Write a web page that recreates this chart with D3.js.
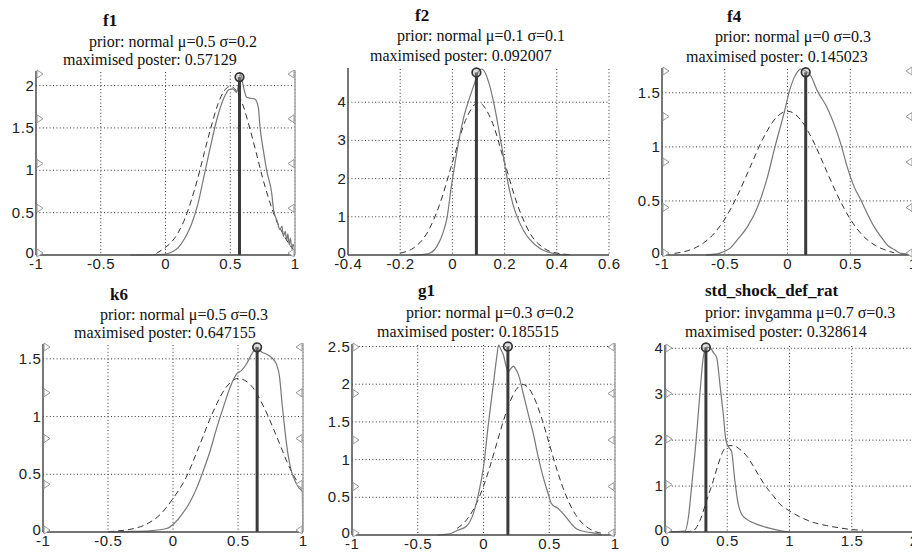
<!DOCTYPE html>
<html>
<head>
<meta charset="utf-8">
<script src="https://cdn.jsdelivr.net/npm/d3@7"></script>
<style>
  html, body { margin: 0; padding: 0; background: #fff; }
  svg { display: block; }
  .tick-label { font-family: "Liberation Sans", Arial, sans-serif; font-size: 15px; fill: #222; letter-spacing: 0.6px; }
  .ann { font-family: "Liberation Serif", "Times New Roman", serif; font-size: 16px; fill: #111; }
  .ttl { font-family: "Liberation Serif", "Times New Roman", serif; font-size: 17px; font-weight: bold; fill: #111; }
</style>
</head>
<body>
<svg id="chart" width="912" height="554"></svg>
<script>
// parameter names and prior descriptions
const panelNames = ['f1', 'f2', 'f4', 'k6', 'g1', 'std_shock_def_rat'];
const priorShapes = ['normal', 'normal', 'normal', 'normal', 'normal', 'invgamma'];
const priorMeans = [0.5, 0.1, 0, 0.5, 0.3, 0.7];
const priorStds = [0.2, 0.1, 0.3, 0.3, 0.2, 0.3];

// posterior mode and the density drawn at it
const modeValues = [0.57129, 0.092007, 0.145023, 0.647155, 0.185515, 0.328614];
const modeDensity = [2.1, 4.78, 1.69, 1.6, 2.5, 4.02];

// axis limits and ticks
const xDomains = [[-1, 1], [-0.4, 0.6], [-1, 1], [-1, 1], [-1, 1], [0, 2]];
const yMax = [2.16, 4.87, 1.72, 1.62, 2.52, 4.05];
const xTicks = [
  [-1, -0.5, 0, 0.5, 1],
  [-0.4, -0.2, 0, 0.2, 0.4, 0.6],
  [-1, -0.5, 0, 0.5, 1],
  [-1, -0.5, 0, 0.5, 1],
  [-1, -0.5, 0, 0.5, 1],
  [0, 0.5, 1, 1.5, 2]
];
const yTicks = [
  [0, 0.5, 1, 1.5, 2],
  [0, 1, 2, 3, 4],
  [0, 0.5, 1, 1.5],
  [0, 0.5, 1, 1.5],
  [0, 0.5, 1, 1.5, 2, 2.5],
  [0, 1, 2, 3, 4]
];

// posterior densities (solid) as [x, density]
const f1Posterior = [[-0.27,0],[-0.1,0.003],[0,0.012],[0.05,0.035],[0.1,0.09],[0.15,0.2],[0.2,0.36],[0.25,0.6],[0.3,0.95],[0.35,1.3],[0.4,1.62],[0.45,1.85],[0.49,1.95],[0.52,1.96],[0.55,1.92],[0.565,2.02],[0.58,2.14],[0.6,2.0],[0.627,1.86],[0.66,1.85],[0.691,1.84],[0.717,1.74],[0.73,1.51],[0.755,1.24],[0.781,1.0],[0.82,0.73],[0.835,0.53],[0.86,0.41],[0.884,0.3],[0.9,0.34],[0.91,0.22],[0.925,0.28],[0.935,0.17],[0.945,0.25],[0.955,0.12],[0.965,0.2],[0.975,0.07],[0.985,0.13],[1.0,0.02]];
const f2Posterior = [[-0.156,0],[-0.12,0.01],[-0.09,0.04],[-0.06,0.22],[-0.035,0.6],[-0.02,1.0],[-0.005,1.75],[0.01,2.4],[0.025,3.0],[0.045,3.65],[0.065,4.1],[0.085,4.5],[0.1,4.8],[0.112,4.87],[0.125,4.78],[0.14,4.5],[0.158,4.0],[0.176,3.35],[0.195,2.6],[0.214,1.85],[0.233,1.3],[0.253,0.92],[0.272,0.65],[0.297,0.4],[0.336,0.17],[0.387,0.04],[0.44,0]];
const f4Posterior = [[-0.65,0],[-0.56,0.01],[-0.51,0.03],[-0.45,0.07],[-0.4,0.14],[-0.32,0.26],[-0.24,0.44],[-0.16,0.72],[-0.1,1.0],[-0.03,1.3],[0.024,1.55],[0.077,1.69],[0.104,1.72],[0.145,1.7],[0.184,1.66],[0.237,1.52],[0.317,1.36],[0.371,1.21],[0.424,1.03],[0.477,0.81],[0.531,0.63],[0.584,0.51],[0.637,0.38],[0.691,0.26],[0.744,0.17],[0.797,0.09],[0.851,0.05],[0.904,0.015],[1.0,0.005]];
const k6Posterior = [[-0.5,0],[-0.3,0.005],[-0.177,0.01],[-0.05,0.03],[0.015,0.08],[0.067,0.15],[0.131,0.26],[0.182,0.38],[0.233,0.53],[0.285,0.7],[0.336,0.9],[0.387,1.08],[0.438,1.25],[0.49,1.37],[0.528,1.4],[0.567,1.46],[0.605,1.54],[0.645,1.6],[0.682,1.56],[0.721,1.54],[0.759,1.51],[0.797,1.45],[0.82,1.34],[0.84,1.1],[0.862,0.87],[0.885,0.67],[0.91,0.53],[0.94,0.44],[0.97,0.38],[0.995,0.35],[0.998,0]];
const g1Posterior = [[-0.35,0],[-0.25,0.02],[-0.2,0.06],[-0.128,0.12],[-0.078,0.28],[-0.039,0.54],[0,0.9],[0.037,1.47],[0.075,2.0],[0.1,2.35],[0.115,2.52],[0.135,2.45],[0.151,2.39],[0.17,2.25],[0.189,2.17],[0.205,2.2],[0.227,2.24],[0.245,2.2],[0.265,2.13],[0.303,1.87],[0.341,1.6],[0.379,1.34],[0.417,1.03],[0.455,0.76],[0.493,0.54],[0.515,0.42],[0.531,0.39],[0.56,0.36],[0.607,0.28],[0.658,0.17],[0.709,0.08],[0.785,0.04],[0.861,0.02],[0.9,0]];
const stdPosterior = [[0.0,0.01],[0.1,0.01],[0.16,0.02],[0.187,0.3],[0.214,1.0],[0.25,2.0],[0.28,3.0],[0.305,3.75],[0.329,4.02],[0.36,4.02],[0.39,3.9],[0.415,3.8],[0.441,3.22],[0.468,2.57],[0.489,2.0],[0.51,1.85],[0.535,1.75],[0.561,1.12],[0.588,0.61],[0.615,0.39],[0.655,0.28],[0.708,0.2],[0.815,0.1],[0.922,0.03],[1.0,0.0]];

// prior densities (dashed) as [x, density]
const f1Prior = [[-0.07,0.02],[0,0.09],[0.05,0.16],[0.1,0.27],[0.15,0.43],[0.2,0.65],[0.25,0.91],[0.3,1.21],[0.35,1.5],[0.4,1.76],[0.45,1.93],[0.5,1.99],[0.55,1.93],[0.6,1.76],[0.65,1.5],[0.7,1.21],[0.75,0.91],[0.8,0.65],[0.85,0.43],[0.9,0.27],[0.95,0.14],[1.0,0.04]];
const f2Prior = [[-0.2,0.05],[-0.15,0.18],[-0.1,0.54],[-0.05,1.3],[0,2.42],[0.05,3.52],[0.1,3.99],[0.15,3.52],[0.2,2.42],[0.25,1.3],[0.3,0.54],[0.35,0.18],[0.4,0.05],[0.45,0.01]];
const f4Prior = [[-0.9,0.015],[-0.8,0.038],[-0.7,0.088],[-0.6,0.18],[-0.5,0.332],[-0.4,0.547],[-0.3,0.807],[-0.2,1.065],[-0.1,1.257],[0,1.33],[0.1,1.257],[0.2,1.065],[0.3,0.807],[0.4,0.547],[0.5,0.332],[0.6,0.18],[0.7,0.088],[0.8,0.038],[0.85,0.02]];
const k6Prior = [[-0.5,0.003],[-0.4,0.012],[-0.3,0.03],[-0.2,0.07],[-0.1,0.15],[0,0.29],[0.1,0.47],[0.2,0.74],[0.3,1.02],[0.4,1.24],[0.5,1.33],[0.6,1.27],[0.7,1.08],[0.8,0.82],[0.9,0.55],[1.0,0.36]];
const g1Prior = [[-0.2,0.088],[-0.15,0.159],[-0.1,0.27],[-0.05,0.431],[0,0.648],[0.05,0.913],[0.1,1.21],[0.15,1.506],[0.2,1.76],[0.25,1.933],[0.3,1.995],[0.35,1.933],[0.4,1.76],[0.45,1.506],[0.5,1.21],[0.55,0.913],[0.6,0.648],[0.65,0.431],[0.7,0.27],[0.75,0.159],[0.8,0.088],[0.85,0.045],[0.9,0.022]];
const stdPrior = [[0.16,0],[0.227,0.03],[0.281,0.25],[0.334,0.68],[0.388,1.12],[0.428,1.48],[0.468,1.77],[0.508,1.88],[0.548,1.88],[0.601,1.8],[0.655,1.66],[0.708,1.44],[0.762,1.19],[0.815,0.97],[0.869,0.79],[0.922,0.61],[0.976,0.5],[1.029,0.41],[1.083,0.33],[1.19,0.21],[1.297,0.14],[1.403,0.09],[1.51,0.05],[1.59,0.04]];

const posteriors = [f1Posterior, f2Posterior, f4Posterior, k6Posterior, g1Posterior, stdPosterior];
const priors = [f1Prior, f2Prior, f4Prior, k6Prior, g1Prior, stdPrior];

// pixel boxes of the six subplots and where their text sits
const layout = [
  { left: 36,  right: 295, top: 72,  bottom: 255, tx: 103, ty: 26,  px: 89,  py: 47,  mx: 63,  my: 65,  markL: true,  markR: true },
  { left: 348, right: 609, top: 69,  bottom: 255, tx: 415, ty: 21,  px: 397, py: 41,  mx: 370, my: 61,  markL: false, markR: false },
  { left: 662, right: 913, top: 69,  bottom: 255, tx: 727, ty: 22,  px: 715, py: 42,  mx: 686, my: 62,  markL: true,  markR: true },
  { left: 43,  right: 303, top: 345, bottom: 532, tx: 110, ty: 300, px: 100, py: 320, mx: 74,  my: 338, markL: true,  markR: true },
  { left: 352, right: 615, top: 345, bottom: 535, tx: 418, ty: 296, px: 406, py: 318, mx: 377, my: 337, markL: true,  markR: true },
  { left: 665, right: 914, top: 346, bottom: 532, tx: 705, ty: 296, px: 705, py: 318, mx: 685, my: 337, markL: true,  markR: false }
];

const svg = d3.select('#chart');

panelNames.forEach((name, i) => {
  const box = layout[i];
  const x = d3.scaleLinear().domain(xDomains[i]).range([box.left, box.right]);
  const y = d3.scaleLinear().domain([0, yMax[i]]).range([box.bottom, box.top]);
  const g = svg.append('g').attr('class', 'panel');

  // dotted grid
  g.selectAll('line.vgrid')
    .data(xTicks[i].filter((t) => t > xDomains[i][0]))
    .enter()
    .append('line')
    .attr('x1', (d) => x(d)).attr('x2', (d) => x(d))
    .attr('y1', box.top).attr('y2', box.bottom)
    .attr('stroke', '#333')
    .attr('stroke-width', 1)
    .attr('stroke-dasharray', '1,2.4');

  g.selectAll('line.hgrid')
    .data(yTicks[i].filter((t) => t > 0))
    .enter()
    .append('line')
    .attr('x1', box.left).attr('x2', box.right)
    .attr('y1', (d) => y(d)).attr('y2', (d) => y(d))
    .attr('stroke', '#333')
    .attr('stroke-width', 1)
    .attr('stroke-dasharray', '1,2.4');

  const line = d3.line()
    .x((d) => x(d[0]))
    .y((d) => y(d[1]))
    .curve(d3.curveMonotoneX);

  // prior
  g.append('path')
    .datum(priors[i])
    .attr('d', line)
    .attr('fill', 'none')
    .attr('stroke', '#333')
    .attr('stroke-width', 1)
    .attr('stroke-dasharray', '6,4');

  // posterior
  g.append('path')
    .datum(posteriors[i])
    .attr('d', line)
    .attr('fill', 'none')
    .attr('stroke', '#777')
    .attr('stroke-width', 1.2);

  // mode marker
  g.append('line')
    .attr('x1', x(modeValues[i])).attr('x2', x(modeValues[i]))
    .attr('y1', y(0)).attr('y2', y(modeDensity[i]))
    .attr('stroke', '#3a3a3a')
    .attr('stroke-width', 3);

  g.append('circle')
    .attr('cx', x(modeValues[i]))
    .attr('cy', y(modeDensity[i]))
    .attr('r', 4.3)
    .attr('fill', '#aaa')
    .attr('fill-opacity', 0.4)
    .attr('stroke', '#333')
    .attr('stroke-width', 1.7);

  // grey ruler on the right
  if (box.markR) {
    g.append('line')
      .attr('x1', box.right).attr('x2', box.right)
      .attr('y1', box.top - 2).attr('y2', box.bottom)
      .attr('stroke', '#a8a8a8')
      .attr('stroke-width', 1.5);
  }

  // axes
  g.append('line')
    .attr('x1', box.left).attr('x2', box.left)
    .attr('y1', box.bottom).attr('y2', box.top - 1)
    .attr('stroke', '#555')
    .attr('stroke-width', 1.6);
  g.append('line')
    .attr('x1', box.left).attr('x2', box.right)
    .attr('y1', box.bottom).attr('y2', box.bottom)
    .attr('stroke', '#444')
    .attr('stroke-width', 1.6);

  // little triangle marks on the rulers
  const markY = d3.range(5).map((k) => box.top + 2 + k * (box.bottom - box.top - 4) / 4);
  if (box.markL) {
    g.selectAll('path.markL')
      .data(markY)
      .enter()
      .append('path')
      .attr('d', (d) => `M${box.left + 1},${d - 4}L${box.left + 1},${d + 4}L${box.left + 7},${d}Z`)
      .attr('fill', '#fff')
      .attr('stroke', '#999')
      .attr('stroke-width', 1);
  }
  if (box.markR) {
    g.selectAll('path.markR')
      .data(markY)
      .enter()
      .append('path')
      .attr('d', (d) => `M${box.right - 1},${d - 4}L${box.right - 1},${d + 4}L${box.right - 7},${d}Z`)
      .attr('fill', '#fff')
      .attr('stroke', '#999')
      .attr('stroke-width', 1);
  }

  // tick labels
  g.selectAll('text.xl')
    .data(xTicks[i])
    .enter()
    .append('text')
    .attr('class', 'tick-label')
    .attr('x', (d) => x(d) + 0.3)
    .attr('y', box.bottom + 14)
    .attr('text-anchor', 'middle')
    .text((d) => String(d));

  g.selectAll('text.yl')
    .data(yTicks[i])
    .enter()
    .append('text')
    .attr('class', 'tick-label')
    .attr('x', box.left - 1.5)
    .attr('y', (d) => y(d) + 5 - (d === 0 ? 2 : 0))
    .attr('text-anchor', 'end')
    .text((d) => String(d));

  // annotations
  g.append('text').attr('class', 'ttl').attr('x', box.tx).attr('y', box.ty).text(name);
  g.append('text').attr('class', 'ann').attr('x', box.px).attr('y', box.py)
    .text(`prior: ${priorShapes[i]} \u03bc=${priorMeans[i]} \u03c3=${priorStds[i]}`);
  g.append('text').attr('class', 'ann').attr('x', box.mx).attr('y', box.my)
    .text(`maximised poster: ${modeValues[i]}`);
});
</script>
</body>
</html>
